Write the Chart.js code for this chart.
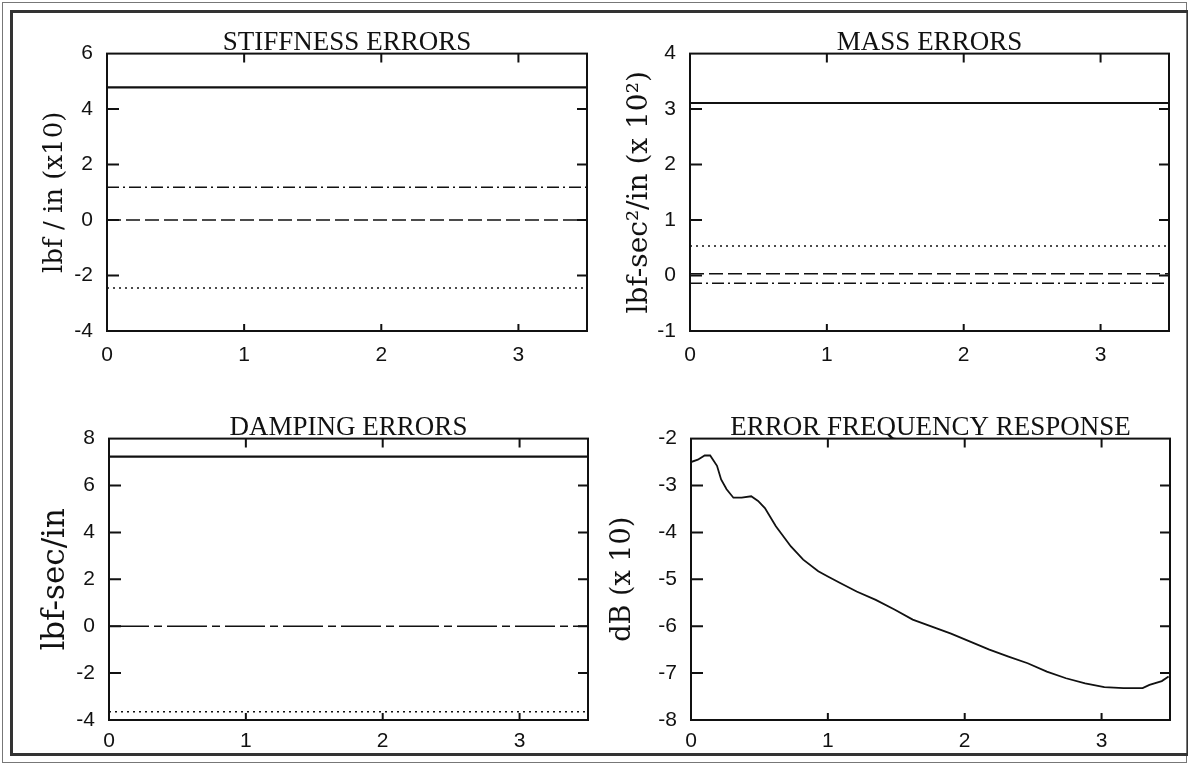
<!DOCTYPE html>
<html>
<head>
<meta charset="utf-8">
<script src="https://cdn.jsdelivr.net/npm/chart.js@4.4.1/dist/chart.umd.min.js"></script>
<style>
  html, body { margin: 0; padding: 0; background: #fff; }
  body { width: 1189px; height: 765px; position: relative; overflow: hidden; }
  canvas { position: absolute; }
  .outer { position: absolute; left: 2px; top: 2px; width: 1183px; height: 759px; border: 1px solid #777; }
  .inner { position: absolute; left: 10px; top: 10px; width: 1174px; height: 740px; border: 3px solid #333; border-right-width: 1px; }
</style>
</head>
<body>
<div class="outer"></div>
<div class="inner"></div>
<canvas id="stiff" width="580" height="344" style="left:12px;top:27px"></canvas>
<canvas id="mass" width="579" height="344" style="left:595px;top:27px"></canvas>
<canvas id="damp" width="579" height="350" style="left:14px;top:412px"></canvas>
<canvas id="freq" width="579" height="350" style="left:596px;top:412px"></canvas>
<script>
const xRange = [0, 3.5];
const xTicks = [0, 1, 2, 3];

// stiffness errors, lbf/in (x10)
const stiffSolid = [4.78, 4.78];
const stiffDashDot = [1.18, 1.18];
const stiffDashed = [0, 0];
const stiffDotted = [-2.45, -2.45];

// mass errors, lbf-sec2/in (x 10^2)
const massSolid = [3.11, 3.11];
const massDotted = [0.53, 0.53];
const massDashed = [0.03, 0.03];
const massDashDot = [-0.14, -0.14];

// damping errors, lbf-sec/in
const dampSolid = [7.23, 7.23];
const dampDashed = [0, 0];
const dampDotted = [-3.65, -3.65];

// error frequency response, dB (x 10)
const freqX = [0, 0.05, 0.1, 0.14, 0.19, 0.22, 0.26, 0.31, 0.37, 0.44, 0.49, 0.54, 0.62, 0.73, 0.82, 0.93,
  1.0, 1.09, 1.21, 1.35, 1.49, 1.62, 1.76, 1.9, 2.04, 2.18, 2.32, 2.46, 2.6, 2.74, 2.88, 3.02, 3.16, 3.3,
  3.35, 3.44, 3.49];
const freqDb = [-2.5, -2.45, -2.36, -2.36, -2.58, -2.87, -3.08, -3.26, -3.26, -3.23, -3.33, -3.48, -3.87,
  -4.3, -4.58, -4.83, -4.94, -5.08, -5.26, -5.44, -5.65, -5.86, -6.01, -6.16, -6.33, -6.5, -6.65, -6.79,
  -6.97, -7.11, -7.22, -7.3, -7.32, -7.32, -7.25, -7.17, -7.07];

const SOLID = [], DASHED = [14, 5], DOTTED = [2, 4], DASHDOT = [12, 4, 2, 4], LONGDASH = [40, 5, 8, 5];

const pts = (xs, ys) => xs.map((x, i) => ({x: x, y: ys[i]}));
const line = (ys, dash, w, xs) => ({
  data: pts(xs || xRange, ys),
  borderColor: '#111',
  borderWidth: w || 1.5,
  borderDash: dash,
  pointRadius: 0,
  tension: 0,
  fill: false
});

const serif = '"Liberation Serif", "DejaVu Serif", serif';

// frame, inward ticks and a title centred over the plot box
const frameTicks = {
  id: 'frameTicks',
  afterDraw(chart, args, opts) {
    const {ctx, chartArea: a, scales} = chart;
    ctx.save();
    ctx.strokeStyle = '#111';
    ctx.lineWidth = 2;
    ctx.strokeRect(a.left, a.top, a.right - a.left, a.bottom - a.top);
    ctx.beginPath();
    scales.x.ticks.forEach(t => {
      if (t.value <= 0) return;
      const px = scales.x.getPixelForValue(t.value);
      ctx.moveTo(px, a.top); ctx.lineTo(px, a.top + 9);
      ctx.moveTo(px, a.bottom); ctx.lineTo(px, a.bottom - 7);
    });
    scales.y.ticks.forEach(t => {
      const py = scales.y.getPixelForValue(t.value);
      if (py <= a.top + 1 || py >= a.bottom - 1) return;
      ctx.moveTo(a.left, py); ctx.lineTo(a.left + 12, py);
      ctx.moveTo(a.right, py); ctx.lineTo(a.right - 10, py);
    });
    ctx.stroke();
    ctx.fillStyle = '#111';
    ctx.font = '27px ' + serif;
    ctx.textAlign = 'center';
    ctx.textBaseline = 'alphabetic';
    ctx.fillText(opts.text, (a.left + a.right) / 2, a.top - 4);
    ctx.restore();
  }
};

const tickFont = {family: '"Liberation Sans", Arial, sans-serif', size: 21};

function panel(id, title, yTitle, yTitleSize, yTitlePad, yMin, yMax, yStep, datasets, xHeight, xPad) {
  new Chart(document.getElementById(id), {
    type: 'line',
    data: {datasets: datasets},
    options: {
      responsive: false,
      animation: false,
      layout: {padding: {left: 0, right: 5, top: 23.4, bottom: 0}},
      plugins: {
        legend: {display: false},
        tooltip: {enabled: false},
        title: {display: false},
        frameTicks: {text: title}
      },
      scales: {
        x: {
          type: 'linear',
          min: xRange[0],
          max: xRange[1],
          afterBuildTicks: s => { s.ticks = xTicks.map(v => ({value: v})); },
          afterFit: s => { s.height = xHeight; },
          grid: {display: false, drawTicks: false},
          border: {display: false},
          ticks: {color: '#111', font: tickFont, padding: xPad, autoSkip: false, maxRotation: 0}
        },
        y: {
          type: 'linear',
          min: yMin,
          max: yMax,
          afterFit: s => { s.width = 95; },
          grid: {display: false, drawTicks: false},
          border: {display: false},
          ticks: {color: '#111', font: tickFont, padding: 14, stepSize: yStep, autoSkip: false},
          title: {
            display: true,
            text: yTitle,
            color: '#111',
            font: {family: '"DejaVu Serif", serif', size: yTitleSize, lineHeight: 1},
            padding: {top: yTitlePad, bottom: 0}
          }
        }
      }
    },
    plugins: [frameTicks]
  });
}

panel('stiff', 'STIFFNESS ERRORS', 'lbf / in (x10)', 26, 30, -4, 6, 2, [
  line(stiffSolid, SOLID, 2.2),
  line(stiffDashDot, DASHDOT),
  line(stiffDashed, DASHED),
  line(stiffDotted, DOTTED)
], 40, 12);

panel('mass', 'MASS ERRORS', 'lbf-sec²/in (x 10²)', 28, 31, -1, 4, 1, [
  line(massSolid, SOLID, 2.2),
  line(massDotted, DOTTED),
  line(massDashed, DASHED),
  line(massDashDot, DASHDOT)
], 40, 12);

panel('damp', 'DAMPING ERRORS', 'lbf-sec/in', 31, 26, -4, 8, 2, [
  line(dampSolid, SOLID, 2.2),
  line(dampDashed, LONGDASH),
  line(dampDotted, DOTTED)
], 42, 9);

panel('freq', 'ERROR FREQUENCY RESPONSE', 'dB (x 10)', 27, 13, -8, -2, 1, [
  line(freqDb, SOLID, 1.8, freqX)
], 42, 9);
</script>
</body>
</html>
